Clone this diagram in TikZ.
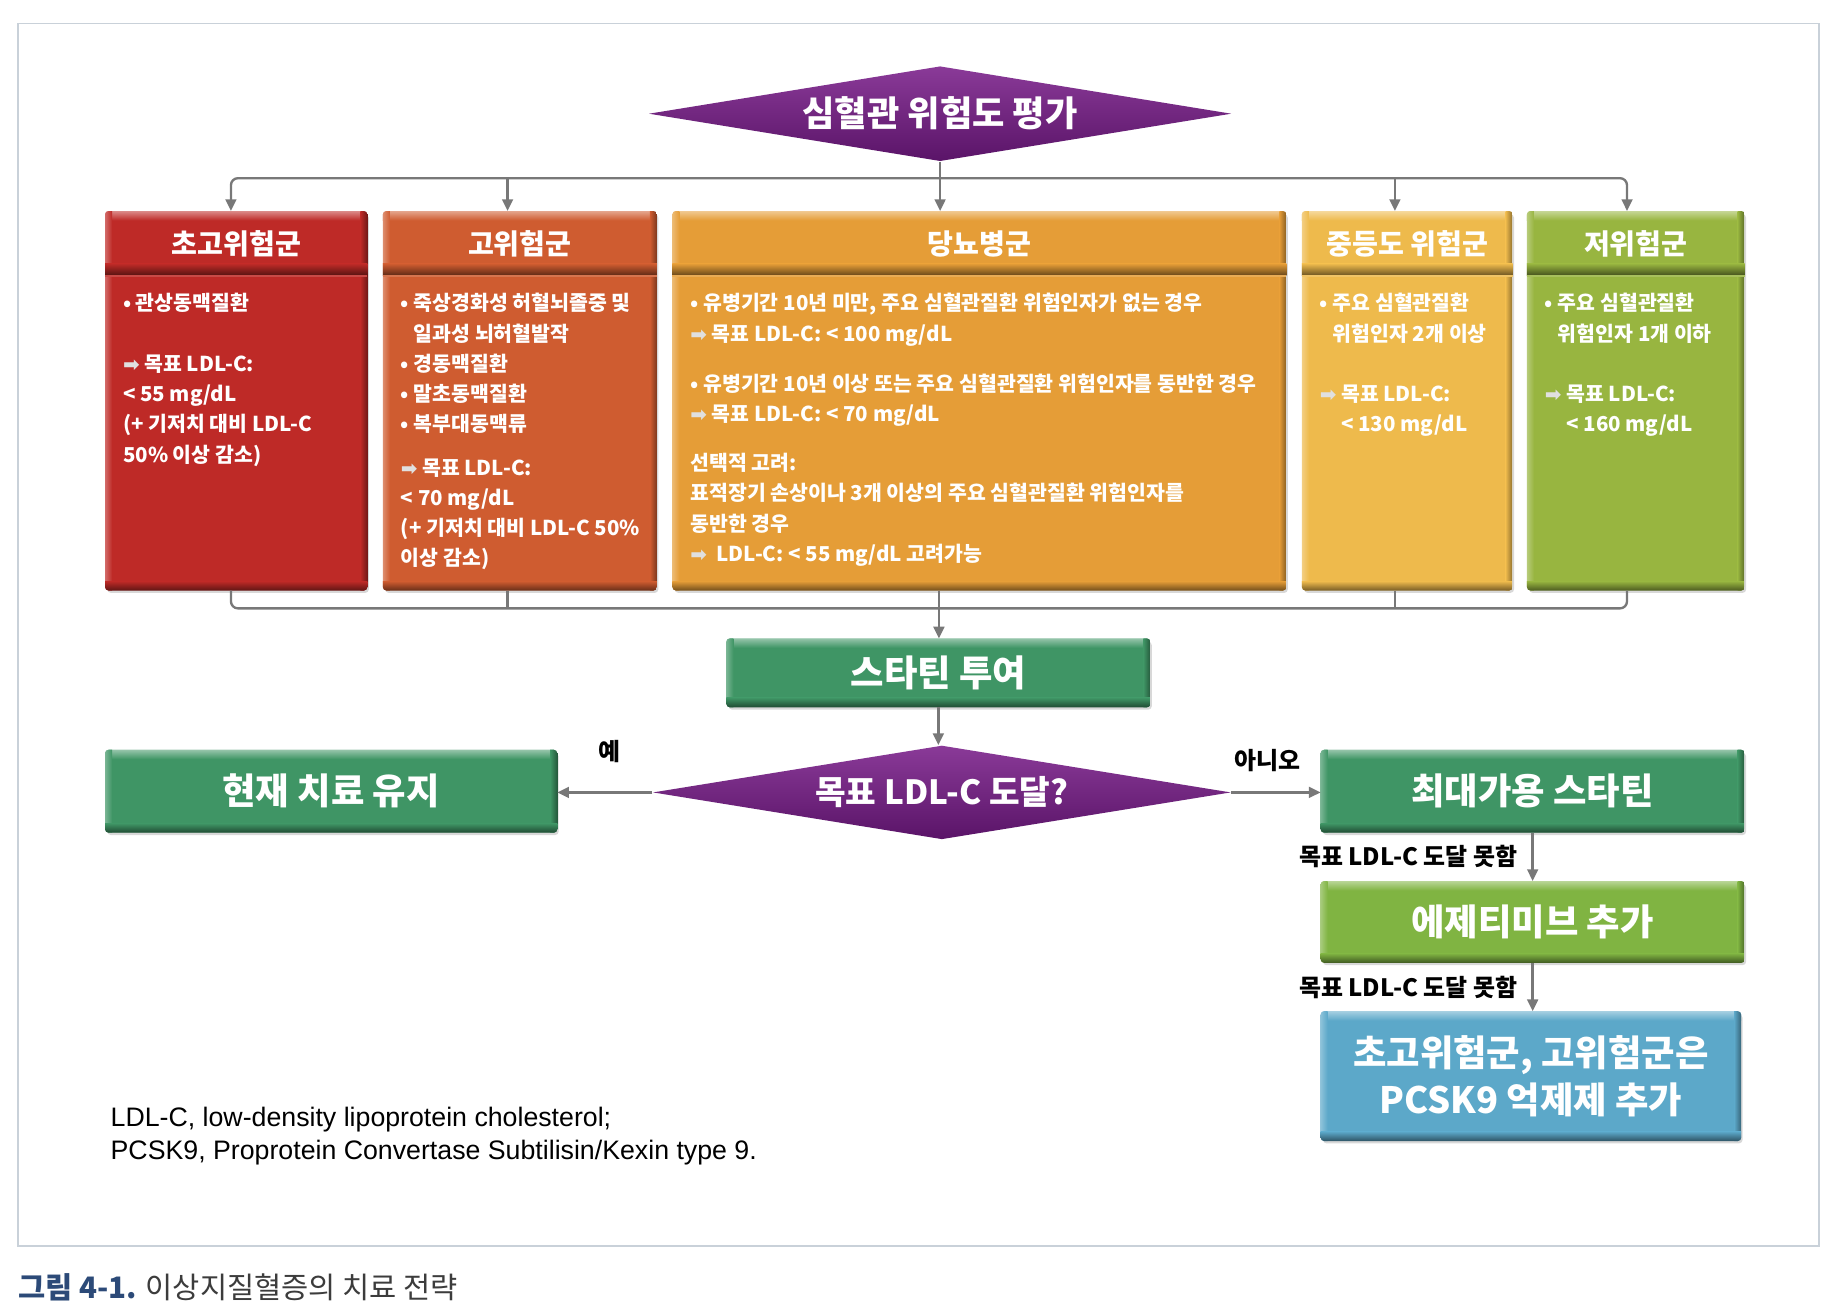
\documentclass[tikz,border=0pt]{standalone}
\usepackage{fontspec}
\setmainfont{Noto Sans CJK KR}
\newfontfamily\dejavu{DejaVu Sans}
\newfontfamily\latinsans{Liberation Sans}
\usetikzlibrary{arrows.meta,shapes.geometric,shadows}
\definecolor{cRed}{HTML}{BE2A27}
\definecolor{cOrR}{HTML}{CF5C30}
\definecolor{cOr}{HTML}{E59D37}
\definecolor{cYel}{HTML}{EEBA4C}
\definecolor{cLime}{HTML}{98B540}
\definecolor{cGreen}{HTML}{3F9565}
\definecolor{cEz}{HTML}{80B442}
\definecolor{cBlue}{HTML}{5CA8C9}
\definecolor{cPurL}{HTML}{8A3A98}
\definecolor{cPurD}{HTML}{5A1468}
\definecolor{cLine}{HTML}{787878}
\definecolor{cFrame}{HTML}{C9D1D9}
\definecolor{cNavy}{HTML}{2C4A78}
\definecolor{cCap}{HTML}{3C3C3C}
\newcommand\tarr{{\dejavu\fontsize{8.5}{8.5}\selectfont\color{white!88!black}➡}}
\newcommand\bevel[2]{%
  \begin{scope}
    \clip[rounded corners=1.5pt] (#1.south west) rectangle (#1.north east);
    \shade[top color=#2!55!white, bottom color=#2] (#1.north west) rectangle ([yshift=-4pt]#1.north east);
    \shade[left color=#2!70!white, right color=#2] (#1.south west) rectangle ([xshift=3pt]#1.north west);
    \shade[left color=#2, right color=#2!60!black] ([xshift=-3pt]#1.south east) rectangle (#1.north east);
    \shade[top color=#2, bottom color=#2!50!black] ([yshift=4pt]#1.south west) rectangle (#1.south east);
  \end{scope}}
\newcommand\catbox[6]{%
  \node[box, fill=#2, minimum width=#4, minimum height=161.5pt, anchor=north] (#1) at (#3,180) {};
  \bevel{#1}{#2}
  \shade[top color=#2, bottom color=#2!45!black] ([yshift=-22.5pt]#1.north west) rectangle ([yshift=-27.5pt]#1.north east);
  \fill[#2!85!white] ([yshift=-27.5pt]#1.north west) rectangle ([yshift=-28.2pt]#1.north east);
  \node[hdr] (#1h) at ([yshift=-14pt]#1.north) {#5};
  \node[body] (#1b) at ([xshift=7.5pt,yshift=-35pt]#1.north west) {#6};}
\begin{document}
\begin{tikzpicture}[x=0.5pt,y=-0.5pt,
  conn/.style={draw=cLine, line width=1pt},
  arr/.style={conn, -{Triangle[length=5pt,width=4.6pt]}},
  box/.style={rectangle, rounded corners=1.5pt, inner sep=0pt,
    drop shadow={opacity=.3, shadow xshift=.8pt, shadow yshift=-1.2pt}},
  hdr/.style={text=white, font=\bfseries\fontsize{12}{14}\selectfont, inner sep=0pt},
  body/.style={text=white, font=\bfseries\fontsize{8.75}{12.9}\selectfont, align=left, inner sep=0pt, anchor=north west},
  big/.style={box, text=white, font=\bfseries\fontsize{15.5}{20}\selectfont, align=center},
  dia/.style={diamond, aspect=6.1, inner sep=0pt, text=white, top color=cPurL, bottom color=cPurD,
    font=\bfseries\fontsize{15}{17}\selectfont},
  lab/.style={font=\bfseries\fontsize{10.2}{12}\selectfont, text=black, inner sep=1pt},
  foot/.style={font=\latinsans\fontsize{11.4}{14}\selectfont, text=black, align=left, inner sep=0pt}]
\fill[white] (0,0) rectangle (1568,1119.3);
\useasboundingbox (0,0) rectangle (1568,1119.3);
\draw[cFrame, line width=.8pt] (15,20) rectangle (1552,1063);

% top decision
\node[dia, minimum width=248.5pt, minimum height=40.5pt] (risk) at (802,97) {심혈관 위험도 평가};

% category boxes
\catbox{vh}{cRed}{201.5}{111.5pt}{초고위험군}{•\ 관상동맥질환\\[12.9pt]
\tarr\ 목표 LDL-C:\\
< 55 mg/dL\\
(+ 기저치 대비 LDL-C\\
50\% 이상 감소)}
\catbox{hi}{cOrR}{443.5}{116.5pt}{고위험군}{•\ 죽상경화성 허혈뇌졸중 및\\
\phantom{•\ }일과성 뇌허혈발작\\
•\ 경동맥질환\\
•\ 말초동맥질환\\
•\ 복부대동맥류\\[5.5pt]
\tarr\ 목표 LDL-C:\\
< 70 mg/dL\\
(+ 기저치 대비 LDL-C 50\%\\
이상 감소)}
\catbox{dm}{cOr}{835.5}{261.5pt}{당뇨병군}{•\ 유병기간 10년 미만, 주요 심혈관질환 위험인자가 없는 경우\\
\tarr\ 목표 LDL-C: < 100 mg/dL\\[8.5pt]
•\ 유병기간 10년 이상 또는 주요 심혈관질환 위험인자를 동반한 경우\\
\tarr\ 목표 LDL-C: < 70 mg/dL\\[8pt]
선택적 고려:\\
표적장기 손상이나 3개 이상의 주요 심혈관질환 위험인자를\\
동반한 경우\\
\tarr\ \ LDL-C: < 55 mg/dL 고려가능}
\catbox{mod}{cYel}{1200.5}{89.5pt}{중등도 위험군}{•\ 주요 심혈관질환\\
\phantom{•\ }위험인자 2개 이상\\[12.9pt]
\tarr\ 목표 LDL-C:\\
\phantom{\tarr\ }< 130 mg/dL}
\catbox{low}{cLime}{1395.5}{92.5pt}{저위험군}{•\ 주요 심혈관질환\\
\phantom{•\ }위험인자 1개 이하\\[12.9pt]
\tarr\ 목표 LDL-C:\\
\phantom{\tarr\ }< 160 mg/dL}

% action boxes
\node[big, fill=cGreen, minimum width=180.5pt, minimum height=29pt] (statin) at (800.5,574) {스타틴 투여};
\bevel{statin}{cGreen}
\node[dia, minimum width=246.5pt, minimum height=40pt, font=\bfseries\fontsize{14.2}{16}\selectfont] (goal) at (803.5,676) {목표 LDL-C 도달?};
\node[big, fill=cGreen, minimum width=192.5pt, minimum height=35pt] (keep) at (282.5,675) {현재 치료 유지};
\bevel{keep}{cGreen}
\node[big, fill=cGreen, minimum width=180.5pt, minimum height=35pt] (maxst) at (1307.5,675) {최대가용 스타틴};
\bevel{maxst}{cGreen}
\node[big, fill=cEz, minimum width=180.5pt, minimum height=34.5pt] (ezet) at (1307.5,786.5) {에제티미브 추가};
\bevel{ezet}{cEz}
\node[big, fill=cBlue, minimum width=179pt, minimum height=55pt] (pcsk) at (1306,918) {초고위험군, 고위험군은\\PCSK9 억제제 추가};
\bevel{pcsk}{cBlue}

% connectors top
\coordinate (hub) at (801,152);
\coordinate (a1) at (197,152);
\coordinate (a2) at (433,152);
\coordinate (a4) at (1190,152);
\coordinate (a5) at (1388,152);
\draw[arr, rounded corners=3pt] (hub) -- (a1) -- (a1 |- vh.north);
\draw[arr, rounded corners=3pt] (hub) -- (a5) -- (a5 |- low.north);
\draw[arr] (a2) -- (a2 |- hi.north);
\draw[arr] (a4) -- (a4 |- mod.north);
\draw[arr] (risk.south) -- (risk.south |- dm.north);

% connectors bottom
\coordinate (b1) at (197,519);
\coordinate (b2) at (433,519);
\coordinate (bh) at (801,519);
\coordinate (b4) at (1190,519);
\coordinate (b5) at (1388,519);
\draw[conn, rounded corners=3pt] (b1 |- vh.south) -- (b1) -- (b5) -- (b5 |- low.south);
\draw[conn] (b2 |- hi.south) -- (b2);
\draw[conn] (b4 |- mod.south) -- (b4);
\draw[conn] (bh |- dm.south) -- (bh);
\draw[arr] (bh) -- (bh |- statin.north);
\draw[arr] (statin.south) -- (statin.south |- goal.north);
\draw[arr] (goal.west) -- (goal.west -| keep.east) node[lab, pos=.45, above=11pt] (yes) {예};
\draw[arr] (goal.east) -- (goal.east -| maxst.west) node[lab, pos=.4, above=7.5pt] (no) {아니오};
\draw[arr] (maxst.south) -- (ezet.north) node[lab, midway, left=5pt] (nr1) {목표 LDL-C 도달 못함};
\draw[arr] (ezet.south) -- (ezet.south |- pcsk.north) node[lab, midway, left=5pt] (nr2) {목표 LDL-C 도달 못함};

% footnote and caption
\node[foot, anchor=west] (fn) at (94,969) {LDL-C, low-density lipoprotein cholesterol;\\PCSK9, Proprotein Convertase Subtilisin/Kexin type 9.};
\node[anchor=west, inner sep=0pt, font=\fontsize{12.6}{15}\selectfont] (cap) at (15,1098) {{\bfseries\color{cNavy}그림 4-1.} {\color{cCap}이상지질혈증의 치료 전략}};
\end{tikzpicture}
\end{document}
